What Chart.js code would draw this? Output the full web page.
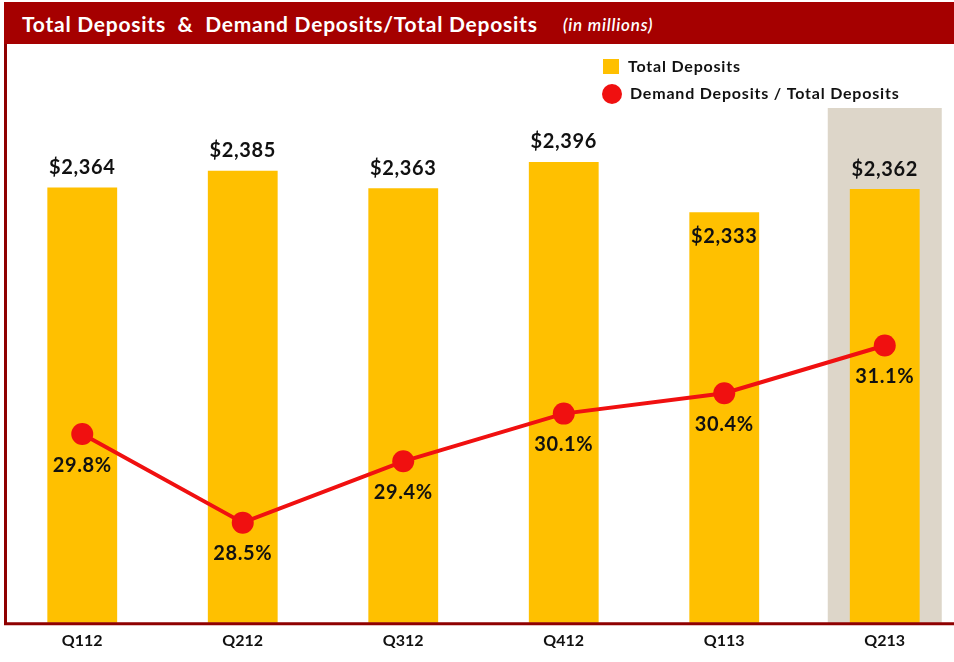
<!DOCTYPE html>
<html>
<head>
<meta charset="utf-8">
<script src="https://cdn.jsdelivr.net/npm/chart.js@4/dist/chart.umd.min.js"></script>
<style>
  html, body { margin: 0; padding: 0; width: 954px; height: 662px; overflow: hidden; background: #ffffff; }
  #wrap { position: absolute; left: 0; top: 0; width: 954px; height: 662px; overflow: hidden; }
  #title { position: absolute; left: 4px; top: 2px; width: 966px; height: 42px; background: #A50000;
           color: #ffffff; font-family: Lato, "Open Sans", sans-serif; z-index: 2; }
  #title .main { position: absolute; left: 18px; top: 9px; font-weight: 700; font-size: 21px; letter-spacing: 0.75px; white-space: pre; }
  #title .sub { position: absolute; left: 559px; top: 12px; font-weight: 600; font-style: italic; font-size: 17px; letter-spacing: 0.8px; white-space: pre; }
  canvas { position: absolute; left: -9px; top: 0; }
</style>
</head>
<body>
<div id="wrap">
  <div id="title"><span class="main">Total Deposits  &amp;  Demand Deposits/Total Deposits</span><span class="sub">(in millions)</span></div>
  <canvas id="c" width="985" height="662"></canvas>
</div>
<script>
// ---- Data ----
const categories = ["Q112", "Q212", "Q312", "Q412", "Q113", "Q213"];
const totalDeposits = [2364, 2385, 2363, 2396, 2333, 2362];
const demandRatio = [29.8, 28.5, 29.4, 30.1, 30.4, 31.1];
const barLabels = ["$2,364", "$2,385", "$2,363", "$2,396", "$2,333", "$2,362"];
const ratioLabels = ["29.8%", "28.5%", "29.4%", "30.1%", "30.4%", "31.1%"];
const barLabelInside = [false, false, false, false, true, false];
const highlightIndex = 5;

const FONT = 'Lato, "Open Sans", sans-serif';
const BAR_COLOR = '#FFC000';
const LINE_COLOR = '#F01010';
const OFFSET_X = 9; // canvas is shifted left by this many px

const decorPlugin = {
  id: 'decor',
  beforeDatasetsDraw(chart) {
    const ctx = chart.ctx;
    const xs = chart.scales.x;
    const ca = chart.chartArea;
    const cx = xs.getPixelForValue(highlightIndex);
    ctx.save();
    ctx.fillStyle = '#DDD6C9';
    ctx.fillRect(cx - 57, 108, 114, ca.bottom - 108);
    ctx.restore();
  },
  afterDatasetsDraw(chart) {
    const ctx = chart.ctx;
    const ca = chart.chartArea;
    ctx.save();
    // bar labels
    const barMeta = chart.getDatasetMeta(0);
    ctx.font = '700 20px ' + FONT;
    try { ctx.letterSpacing = '0.6px'; } catch (e) {}
    ctx.fillStyle = '#111111';
    ctx.textAlign = 'center';
    ctx.textBaseline = 'middle';
    barMeta.data.forEach((el, i) => {
      const y = barLabelInside[i] ? el.y + 24 : el.y - 20;
      ctx.fillText(barLabels[i], el.x, y);
    });
    // line labels
    const lineMeta = chart.getDatasetMeta(1);
    lineMeta.data.forEach((el, i) => {
      ctx.fillText(ratioLabels[i], el.x, el.y + 31);
    });
    // border
    ctx.strokeStyle = '#8E0000';
    ctx.lineWidth = 3;
    ctx.beginPath();
    ctx.moveTo(OFFSET_X + 5.5, 2);
    ctx.lineTo(OFFSET_X + 5.5, ca.bottom + 1);
    ctx.lineTo(990, ca.bottom + 1);
    ctx.stroke();
    // legend
    ctx.textAlign = 'left';
    ctx.font = '700 16px ' + FONT;
    try { ctx.letterSpacing = '0.8px'; } catch (e) {}
    const lx = OFFSET_X;
    ctx.fillStyle = BAR_COLOR;
    ctx.fillRect(lx + 603, 59, 16, 15);
    ctx.fillStyle = '#111111';
    ctx.fillText(chart.data.datasets[0].label, lx + 628, 67);
    ctx.fillStyle = LINE_COLOR;
    ctx.beginPath();
    ctx.arc(lx + 612, 94, 10, 0, Math.PI * 2);
    ctx.fill();
    ctx.fillStyle = '#111111';
    ctx.fillText(chart.data.datasets[1].label, lx + 630, 94);
    ctx.restore();
  }
};

new Chart(document.getElementById('c'), {
  data: {
    labels: categories,
    datasets: [
      {
        type: 'bar',
        label: 'Total Deposits',
        data: totalDeposits,
        backgroundColor: BAR_COLOR,
        yAxisID: 'y',
        barPercentage: 0.87,
        categoryPercentage: 0.5,
        order: 2
      },
      {
        type: 'line',
        label: 'Demand Deposits / Total Deposits',
        data: demandRatio,
        borderColor: LINE_COLOR,
        backgroundColor: LINE_COLOR,
        borderWidth: 4,
        pointRadius: 11,
        pointHoverRadius: 11,
        pointBorderWidth: 0,
        yAxisID: 'y2',
        order: 1
      }
    ]
  },
  options: {
    responsive: false,
    animation: false,
    layout: { padding: { left: 2, right: 5, top: 45, bottom: 12 } },
    plugins: { legend: { display: false }, tooltip: { enabled: false }, title: { display: false } },
    scales: {
      x: {
        offset: true,
        grid: { display: false },
        border: { display: false },
        ticks: { color: '#111111', font: { family: FONT, size: 16, weight: '700' }, padding: 0 }
      },
      y: { display: false, min: 1817, max: 2543 },
      y2: { display: false, min: 27.03, max: 35.51, position: 'right' }
    }
  },
  plugins: [decorPlugin]
});
</script>
</body>
</html>
